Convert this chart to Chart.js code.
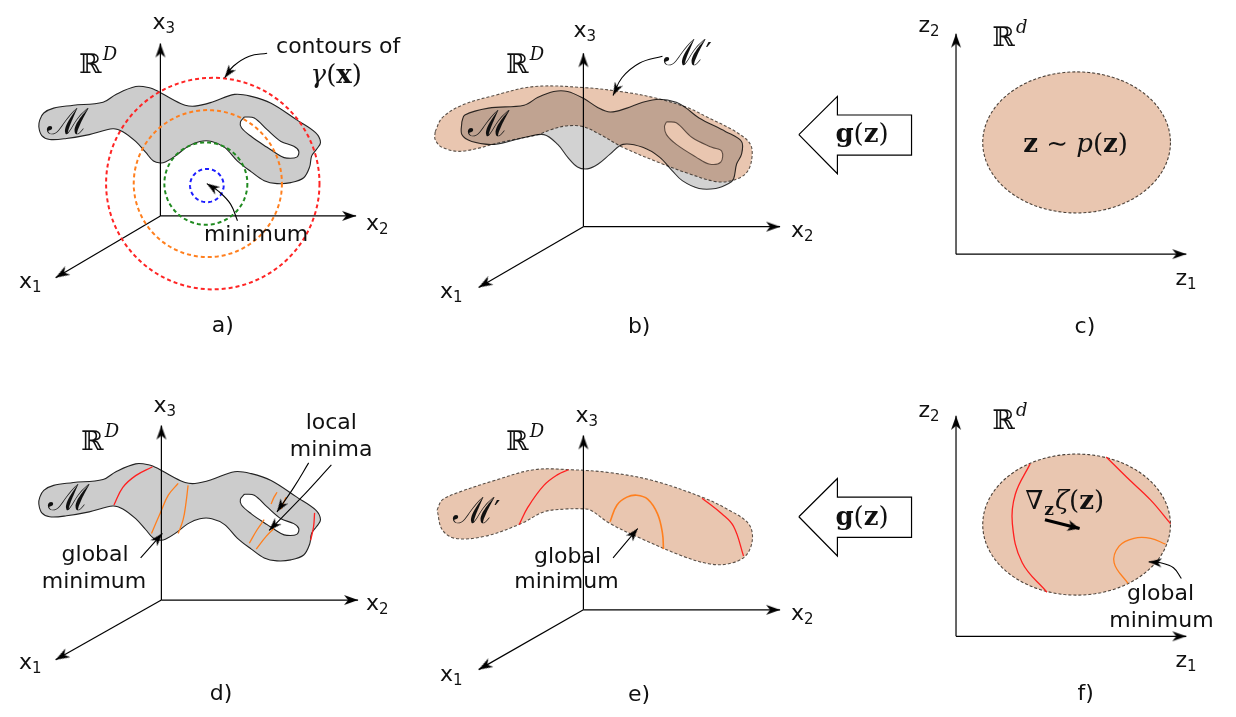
<!DOCTYPE html>
<html>
<head>
<meta charset="utf-8">
<script src="https://cdn.jsdelivr.net/npm/chart.js@4.4.1/dist/chart.umd.min.js"></script>
<style>
  html, body { margin: 0; padding: 0; background: #fff; }
  canvas { display: block; }
</style>
</head>
<body>
<canvas id="fig" width="1236" height="717"></canvas>
<script>
/* Six panel manifold figure, drawn as one scatter chart.
   Data units are figure pixels: x to the right, y downwards. */

const W = 1236, H = 717;

// ---- data ----

// data manifold M (panel a), outline and hole
const manifold = [[67,100],[97,97],[110,89],[130,81],[143,82],[153,86],[167,94],[180,100],[190,101],[207,97],
  [230,89],[247,91],[267,98],[293,115],[312,128],[317,138],[313,145],[308,152],[306,163],[300,174],[287,179],
  [273,180],[260,177],[247,168],[233,157],[220,143],[207,137],[195,137],[183,142],[170,152],[160,158],[155,159],
  [148,157],[140,148],[130,137],[117,127],[107,124],[83,130],[60,134],[43,135],[35,131],[32,122],[33,115],
  [37,108],[47,103]];
const manifoldHole = [[240,112],[250,113],[263,125],[277,137],[290,142],[295,147],[293,153],[283,154],[277,152],
  [263,143],[247,132],[237,123],[236,117]];
const panelDShift = 385;

// M in panel b, its hole, and the learned manifold M'
const manifoldB = [[460,117],[463,110],[487,103],[523,100],[537,92],[553,86],[567,86],[583,93],[597,102],[610,107],
  [627,103],[643,97],[660,94],[677,97],[687,103],[700,113],[727,127],[743,137],[743,150],[738,160],[735,175],
  [730,180],[717,185],[700,185],[683,177],[673,167],[660,153],[643,143],[623,140],[610,150],[598,160],[587,165],
  [577,163],[567,153],[557,140],[543,130],[523,133],[493,140],[470,137],[460,130]];
const manifoldBHole = [[667,117],[677,118],[693,133],[713,143],[723,147],[722,158],[710,160],[697,153],[677,140],
  [667,130],[665,122]];
const learnedB = [[433,127],[440,113],[460,100],[493,90],[533,81],[583,82],[627,87],[657,93],[687,102],[710,113],
  [737,127],[752,140],[753,157],[747,170],[733,177],[717,178],[690,170],[663,160],[623,143],[600,130],[583,122],
  [567,121],[550,125],[537,130],[503,137],[460,147],[440,143],[433,135]];
const learnedE = [[435,513],[440,503],[457,495],[493,483],[533,472],[570,472],[610,475],[653,483],[703,500],
  [730,513],[750,527],[754,543],[747,560],[730,568],[710,568],[683,560],[643,543],[610,527],[590,513],[583,512],
  [567,512],[543,515],[520,527],[483,540],[453,542],[440,533]];

// level sets of the objective
const levelsD = {
  red: [[[108,508],[117,490],[130,478],[147,469]], [[311,516],[310,530],[307,544]]],
  orange: [[[146,537],[155,516],[163,498],[173,486]], [[173,537],[178,523],[181,505],[183,488]],
    [[245,547],[253,533],[260,523]], [[267,507],[270,500],[273,495]],
    [[252,553],[262,540],[270,532]], [[277,512],[280,505],[282,500]]]
};
const levelsE = {
  red: [[[518,528],[527,510],[543,488],[557,477],[568,472]], [[703,501],[723,517],[735,530],[745,560]]],
  orange: [[[610,525],[617,508],[627,500],[637,498],[648,502],[658,517],[663,537],[664,553]]]
};
const levelsF = {
  red: [[[1035,466],[1020,497],[1017,527],[1027,567],[1052,597]], [[1112,459],[1133,480],[1157,503],[1177,527]]],
  orange: [[[1172,548],[1157,542],[1140,542],[1125,550],[1120,567],[1134,588]]]
};

// contours of gamma(x) in panel a: centre, radius
const contourCentres = [[202,182],[201,180],[203,180],[208,180]];
const contourRadii = [17, 42, 75, 108];

// latent prior p(z): centre and radii of the ellipse, panels c and f
const priorCentres = [[1082,138],[1082,528]];
const priorRadii = [95, 72];

// generator arrow g(z), panels c and f
const genArrowC = [[801,130],[840,91],[840,110],[915,110],[915,151],[840,151],[840,170]];
const genArrowF = [[801,520],[840,481],[840,500],[915,500],[915,541],[840,541],[840,560]];

// coordinate axes: origin and arrow tips
const axisOrigins = [[155,213],[583,224],[960,252],[156,605],[583,615],[960,642]];
const axisTips = [
  [[155,37],[353,213],[49,276]],
  [[583,47],[782,224],[477,286]],
  [[960,27],[1193,252]],
  [[156,427],[355,605],[49,666]],
  [[583,437],[782,615],[477,676]],
  [[960,417],[1193,642]]
];

// annotation arrows (last point is the tip)
const pointers = [
  [[263,47],[245,50],[229,60],[220,72]],
  [[233,218],[226,201],[214,188],[202,180]],
  [[663,50],[640,57],[622,72],[613,90]],
  [[135,562],[157,537]],
  [[305,465],[290,490],[273,515]],
  [[328,467],[298,500],[265,534]],
  [[613,562],[638,532]],
  [[1188,583],[1180,572],[1167,567],[1155,566]]
];
const gradientArrow = [[1050,523],[1085,532]];

// ---- styles ----
const GRAY = '#cccccc', PEACH = '#e9c6b0', INK = '#1a1a1a';
const RED = '#ff2020', ORANGE = '#ff7f1e';
const contourColours = ['#1c1cff', '#1f8a1f', '#ff7f1e', '#ff2424'];
const SANS = '"DejaVu Sans", sans-serif';
const SERIF = '"DejaVu Serif", serif';

// ---- text ----
const sans = t => [{ t, f: `22px ${SANS}` }];
const ax = (v, i) => [{ t: v, f: `22px ${SANS}` }, { t: i, f: `15px ${SANS}`, dy: 4 }];
const realSpace = s => [{ t: 'ℝ', f: `27px ${SERIF}` }, { t: s, f: `italic 18px ${SERIF}`, dy: -13, dx: 1 }];
const mScript = [{ t: 'ℳ', f: `36px ${SERIF}` }];
const mPrime = [{ t: 'ℳ', f: `36px ${SERIF}` }, { t: '′', f: `28px ${SERIF}`, dx: -1, dy: -2 }];
const gz = [{ t: 'g', f: `bold 26px ${SERIF}` }, { t: '(', f: `26px ${SERIF}` }, { t: 'z', f: `bold 26px ${SERIF}` }, { t: ')', f: `26px ${SERIF}` }];
const gammaX = [{ t: 'γ', f: `italic 26px ${SERIF}` }, { t: '(', f: `26px ${SERIF}` }, { t: 'x', f: `bold 26px ${SERIF}` }, { t: ')', f: `26px ${SERIF}` }];
const zpz = [{ t: 'z', f: `bold 26px ${SERIF}` }, { t: ' ∼ ', f: `26px ${SERIF}` }, { t: 'p', f: `italic 26px ${SERIF}` },
  { t: '(', f: `26px ${SERIF}` }, { t: 'z', f: `bold 26px ${SERIF}` }, { t: ')', f: `26px ${SERIF}` }];
const nabla = [{ t: '∇', f: `26px ${SERIF}` }, { t: 'z', f: `bold 17px ${SERIF}`, dy: 6, dx: 1 }, { t: 'ζ', f: `italic 26px ${SERIF}`, dx: 1 },
  { t: '(', f: `26px ${SERIF}` }, { t: 'z', f: `bold 26px ${SERIF}` }, { t: ')', f: `26px ${SERIF}` }];

const labels = [
  [147, 22, ax('x', '3')], [363, 227, ax('x', '2')], [12, 287, ax('x', '1')], [73, 67, realSpace('D')],
  [40, 129, mScript], [272, 47, sans('contours of')], [307, 77, gammaX], [199, 239, sans('minimum')], [207, 331, sans('a)')],
  [573, 30, ax('x', '3')], [793, 234, ax('x', '2')], [438, 297, ax('x', '1')], [505, 67, realSpace('D')],
  [466, 131, mScript], [665, 59, mPrime], [628, 332, sans('b)')],
  [922, 25, ax('z', '2')], [997, 40, realSpace('d')], [1028, 148, zpz], [1182, 283, ax('z', '1')], [1080, 332, sans('c)')], [838, 138, gz],
  [148, 413, ax('x', '3')], [363, 615, ax('x', '2')], [12, 675, ax('x', '1')], [75, 452, realSpace('D')], [41, 513, mScript],
  [302, 430, sans('local')], [286, 458, sans('minima')], [55, 565, sans('global')], [35, 593, sans('minimum')], [205, 707, sans('d)')],
  [575, 423, ax('x', '3')], [793, 625, ax('x', '2')], [438, 688, ax('x', '1')], [505, 452, realSpace('D')], [451, 526, mPrime],
  [533, 567, sans('global')], [513, 593, sans('minimum')], [628, 708, sans('e)')],
  [922, 418, ax('z', '2')], [997, 430, realSpace('d')], [1030, 512, nabla], [1133, 605, sans('global')], [1115, 633, sans('minimum')],
  [1182, 673, ax('z', '1')], [1083, 707, sans('f)')], [838, 528, gz]
];

// ---- helpers ----
const shift = (pts, dx, dy) => pts.map(([x, y]) => [x + dx, y + dy]);
const closed = pts => pts.concat([pts[0]]);

function ring(cx, cy, rx, ry) {
  const pts = [];
  for (let i = 0; i <= 96; i++) {
    const a = (i / 96) * Math.PI * 2;
    pts.push([cx + rx * Math.cos(a), cy + ry * Math.sin(a)]);
  }
  return pts;
}

function line(pts, opts) {
  return Object.assign({
    data: pts.map(([x, y]) => ({ x, y })),
    showLine: true, pointRadius: 0, borderWidth: 1.1, borderColor: INK,
    backgroundColor: 'transparent', fill: false, tension: 0
  }, opts);
}

const headCache = {};
function head(len, wid) {
  const key = len + 'x' + wid;
  if (headCache[key]) return headCache[key];
  const c = document.createElement('canvas');
  c.width = wid + 2; c.height = len * 2 + 2;
  const g = c.getContext('2d');
  const cx = c.width / 2, cy = c.height / 2;
  g.fillStyle = '#000';
  g.beginPath();
  g.moveTo(cx, cy);
  g.lineTo(cx + wid / 2, cy + len);
  g.lineTo(cx, cy + len * 0.72);
  g.lineTo(cx - wid / 2, cy + len);
  g.closePath();
  g.fill();
  return (headCache[key] = c);
}

function arrow(pts, len, wid, width, tension) {
  const n = pts.length;
  const [x0, y0] = pts[n - 2], [x1, y1] = pts[n - 1];
  const rot = Math.atan2(x1 - x0, -(y1 - y0)) * 180 / Math.PI;
  return line(pts, {
    borderWidth: width, borderColor: '#000', tension: tension || 0,
    pointStyle: head(len, wid), pointRotation: rot,
    pointRadius: ctx => (ctx.dataIndex === n - 1 ? 1 : 0)
  });
}

// ---- layers, bottom to top ----
const layers = [];
const axesOf = p => axisTips[p].forEach(tip => layers.push(arrow([axisOrigins[p], tip], 14, 10, 1.2)));

// a) manifold and contours of gamma
layers.push(line(closed(manifold), { backgroundColor: GRAY, fill: 'shape', borderColor: '#222', tension: 0.35 }));
layers.push(line(closed(manifoldHole), { backgroundColor: '#fff', fill: 'shape', borderColor: '#222', tension: 0.35 }));
axesOf(0);
contourRadii.forEach((r, i) => {
  const [cx, cy] = contourCentres[i];
  layers.push(line(ring(cx, cy, r, r), { borderColor: contourColours[i], borderWidth: 2, borderDash: [4, 3] }));
});

// b) M' under M
layers.push(line(closed(learnedB), { backgroundColor: PEACH, fill: 'shape', borderColor: '#5a5048', borderDash: [3, 2], tension: 0.35 }));
layers.push(line(closed(manifoldB), { backgroundColor: '#d2d2d2', fill: 'shape', borderColor: '#333', tension: 0.35, blend: 'multiply' }));
layers.push(line(closed(manifoldBHole), { backgroundColor: PEACH, fill: 'shape', borderColor: '#5e4c42', tension: 0.35 }));
axesOf(1);

// c) latent prior
layers.push(line(ring(priorCentres[0][0], priorCentres[0][1], priorRadii[0], priorRadii[1]),
  { backgroundColor: PEACH, fill: 'shape', borderColor: '#4a4038', borderDash: [3, 2] }));
axesOf(2);
layers.push(line(closed(genArrowC), { backgroundColor: '#fff', fill: 'shape', borderColor: '#000', borderWidth: 1.2 }));

// d) level sets on M
layers.push(line(closed(shift(manifold, 0, panelDShift)), { backgroundColor: GRAY, fill: 'shape', borderColor: '#222', tension: 0.35 }));
layers.push(line(closed(shift(manifoldHole, 0, panelDShift)), { backgroundColor: '#fff', fill: 'shape', borderColor: '#222', tension: 0.35 }));
levelsD.red.forEach(p => layers.push(line(p, { borderColor: RED, borderWidth: 1.3, tension: 0.4 })));
levelsD.orange.forEach(p => layers.push(line(p, { borderColor: ORANGE, borderWidth: 1.3, tension: 0.4 })));
axesOf(3);

// e) level sets on M'
layers.push(line(closed(learnedE), { backgroundColor: PEACH, fill: 'shape', borderColor: '#5a5048', borderDash: [3, 2], tension: 0.35 }));
levelsE.red.forEach(p => layers.push(line(p, { borderColor: RED, borderWidth: 1.3, tension: 0.4 })));
levelsE.orange.forEach(p => layers.push(line(p, { borderColor: ORANGE, borderWidth: 1.6, tension: 0.4 })));
axesOf(4);

// f) level sets in latent space
layers.push(line(ring(priorCentres[1][0], priorCentres[1][1], priorRadii[0], priorRadii[1]),
  { backgroundColor: PEACH, fill: 'shape', borderColor: '#4a4038', borderDash: [3, 2] }));
levelsF.red.forEach(p => layers.push(line(p, { borderColor: RED, borderWidth: 1.3, tension: 0.4 })));
levelsF.orange.forEach(p => layers.push(line(p, { borderColor: ORANGE, borderWidth: 1.3, tension: 0.4 })));
axesOf(5);
layers.push(line(closed(genArrowF), { backgroundColor: '#fff', fill: 'shape', borderColor: '#000', borderWidth: 1.2 }));
layers.push(arrow(gradientArrow, 12, 11, 3.2));

pointers.forEach(p => layers.push(arrow(p, 13, 9, 1.1, 0.4)));

// first dataset is drawn on top in Chart.js, so order by layer
layers.forEach((ds, i) => { ds.order = layers.length - i; });

// ---- plugins ----
function setBlend(chart, meta) {
  const ds = meta && chart.data.datasets[meta.index];
  chart.ctx.globalCompositeOperation = (ds && ds.blend) || 'source-over';
}

const blendPlugin = {
  id: 'blend',
  beforeDatasetsDraw(chart) {
    chart.$drawSeq = chart.getSortedVisibleDatasetMetas().slice().reverse();
    setBlend(chart, chart.$drawSeq[0]);
  },
  afterDatasetDraw(chart, args) {
    const seq = chart.$drawSeq;
    setBlend(chart, seq[seq.indexOf(args.meta) + 1]);
  },
  afterDatasetsDraw(chart) {
    chart.ctx.globalCompositeOperation = 'source-over';
  }
};

const textPlugin = {
  id: 'figText',
  afterDatasetsDraw(chart) {
    const { ctx, scales: { x, y } } = chart;
    ctx.save();
    ctx.globalCompositeOperation = 'source-over';
    ctx.fillStyle = '#111';
    ctx.textBaseline = 'alphabetic';
    ctx.textAlign = 'left';
    labels.forEach(([lx, ly, runs]) => {
      let px = x.getPixelForValue(lx);
      const py = y.getPixelForValue(ly);
      runs.forEach(r => {
        ctx.font = r.f;
        px += r.dx || 0;
        ctx.fillText(r.t, px, py + (r.dy || 0));
        px += ctx.measureText(r.t).width;
      });
    });
    ctx.restore();
  }
};

new Chart(document.getElementById('fig'), {
  type: 'scatter',
  data: { datasets: layers },
  options: {
    responsive: false,
    animation: false,
    events: [],
    layout: { padding: 0 },
    scales: {
      x: { type: 'linear', min: 0, max: W, display: false },
      y: { type: 'linear', min: 0, max: H, reverse: true, display: false }
    },
    plugins: { legend: { display: false }, tooltip: { enabled: false } }
  },
  plugins: [blendPlugin, textPlugin]
});
</script>
</body>
</html>
